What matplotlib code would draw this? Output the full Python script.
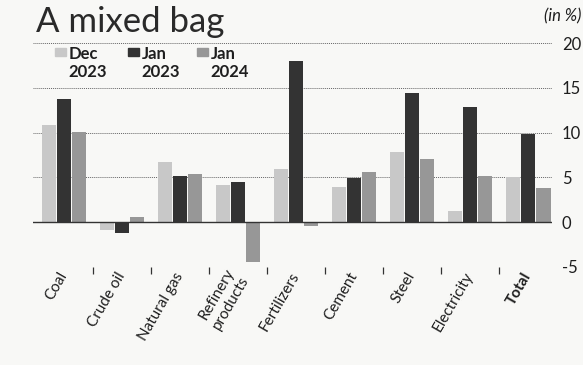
import numpy as np
import matplotlib.pyplot as plt
from matplotlib.patches import Rectangle

# data (% growth)
categories = ["Coal", "Crude oil", "Natural gas", "Refinery\nproducts", "Fertilizers",
              "Cement", "Steel", "Electricity", "Total"]
dec_2023 = [10.8, -0.9, 6.7, 4.1, 5.9, 3.9, 7.8, 1.3, 5.1]
jan_2023 = [13.7, -1.2, 5.2, 4.5, 18.0, 4.9, 14.4, 12.9, 9.9]
jan_2024 = [10.1, 0.6, 5.4, -4.4, -0.4, 5.6, 7.1, 5.2, 3.8]
series_names = ["Dec\n2023", "Jan\n2023", "Jan\n2024"]
yticks = [-5, 0, 5, 10, 15, 20]

colors = ["#c8c8c8", "#333333", "#979797"]
bg = "#f8f8f6"
txt = "#1e1e1e"
fam = ["Lato", "DejaVu Sans"]

fig = plt.figure(figsize=(5.83, 3.65), dpi=100, facecolor=bg)
ax = fig.add_axes([0.0566, 0.2685, 0.8904, 0.6135])
ax.set_facecolor(bg)

x = np.arange(len(categories))
w = 0.245
offs = [-0.26, 0, 0.26]
for vals, off, c in zip([dec_2023, jan_2023, jan_2024], offs, colors):
    ax.bar(x + off, vals, width=w, color=c, zorder=3)

ax.set_xlim(-0.53, 8.41)
ax.set_ylim(-5, 20)

# dotted grid, solid zero line
for v in yticks:
    if v == 0:
        ax.axhline(0, color="#333333", lw=1.0, zorder=4)
    else:
        ax.axhline(v, color="#666666", lw=0.7, ls=(0, (1, 1)), zorder=1)

for s in ax.spines.values():
    s.set_visible(False)

ax.yaxis.tick_right()
ax.set_yticks(yticks)
ax.set_yticklabels([str(v) for v in yticks], family=fam, fontsize=12, color=txt)
ax.tick_params(axis="y", length=0, pad=7)

ax.set_xticks(x)
ax.set_xticklabels([])
ax.set_xticks(x[:-1] + 0.5, minor=True)
ax.tick_params(axis="x", which="major", length=0)
ax.tick_params(axis="x", which="minor", length=5, width=0.9, color="#333333", direction="out")

for i, lab in enumerate(categories):
    ax.text(x[i], -5.7, lab, rotation=60, rotation_mode="anchor", ha="right", va="center",
            family=fam, fontsize=11, color=txt,
            fontweight="bold" if lab == "Total" else "normal")

# legend (squares aligned with the first line)
lx = [0.042, 0.183, 0.316]
for xi, name, c in zip(lx, series_names, colors):
    ax.add_patch(Rectangle((xi, 0.942), 0.021, 0.036, transform=ax.transAxes,
                           color=c, clip_on=False, zorder=5))
    ax.text(xi + 0.026, 0.985, name, transform=ax.transAxes, ha="left", va="top",
            family=fam, fontsize=12, fontweight="bold", color=txt, linespacing=1.1)

fig.text(0.062, 0.895, "A mixed bag", family=fam, fontweight="normal",
         fontsize=25, color="#2a2a2a", ha="left", va="bottom")
fig.text(0.997, 0.955, "(in %)", family=fam, style="italic", fontsize=12,
         color=txt, ha="right", va="center")

fig.savefig("out.png", dpi=100, facecolor=bg)
